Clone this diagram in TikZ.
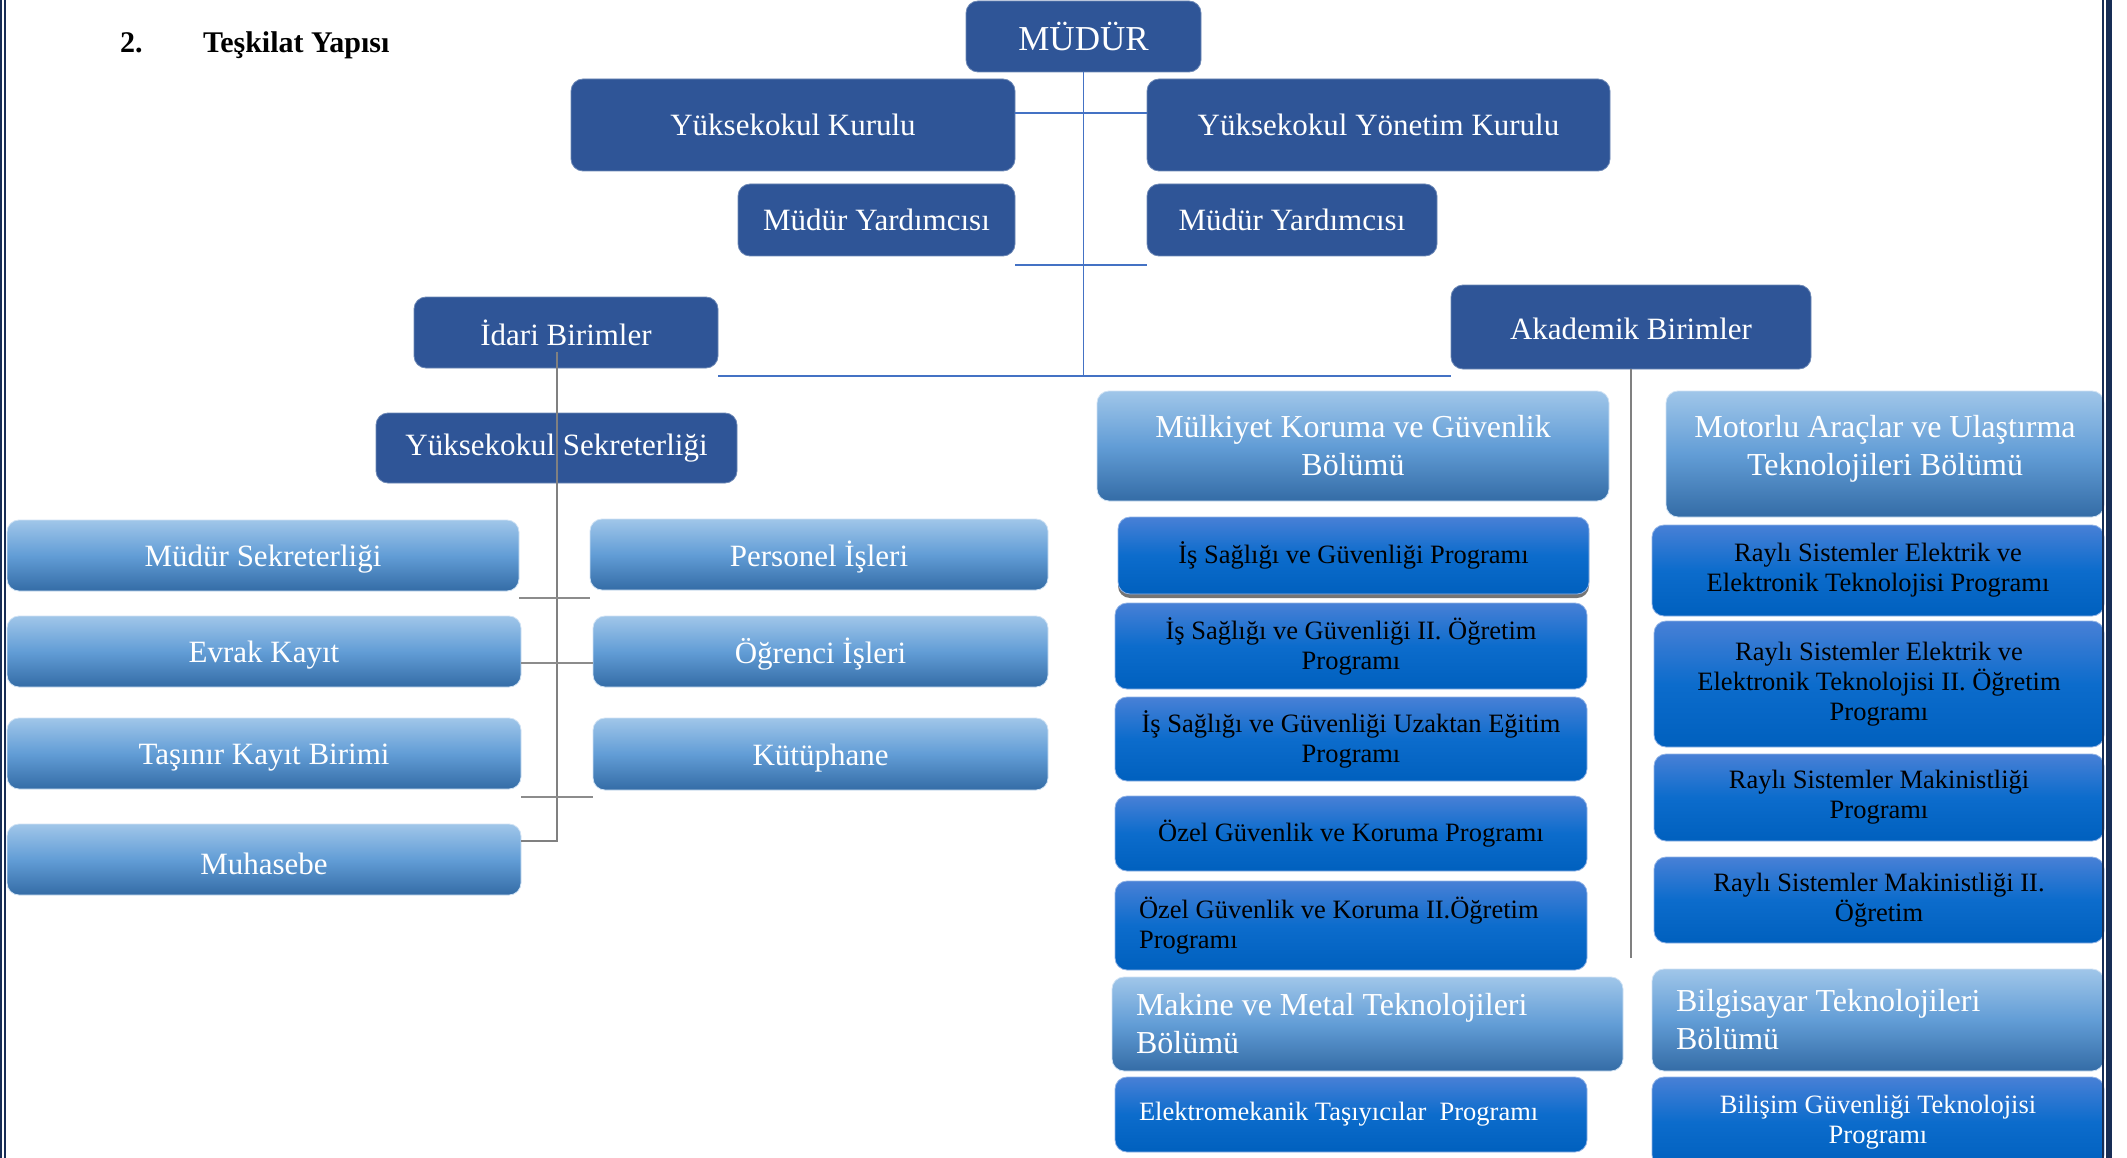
\documentclass[tikz,border=0pt]{standalone}
\usepackage{fontspec}
\setmainfont{Liberation Serif}
\usetikzlibrary{shadows}
\definecolor{navy}{RGB}{47,85,151}
\definecolor{ltop}{RGB}{160,198,233}
\definecolor{lmid}{RGB}{98,157,214}
\definecolor{lbot}{RGB}{52,108,166}
\definecolor{dtop}{RGB}{72,128,214}
\definecolor{dmid}{RGB}{12,108,204}
\definecolor{dbot}{RGB}{0,96,190}
\definecolor{lineblue}{RGB}{68,114,196}
\definecolor{linegray}{RGB}{128,128,128}
\definecolor{pageborder}{RGB}{23,45,85}
\newcommand\obox[7]{%
  \pgfmathsetmacro\bxw{#4-#2}\pgfmathsetmacro\bxh{#5-#3}%
  \pgfmathsetmacro\bxt{#4-#2-48}%
  \pgfmathsetmacro\bxcx{(#2+#4)/2}\pgfmathsetmacro\bxcy{(#3+#5)/2}%
  \node[#6, minimum width=\bxw pt, minimum height=\bxh pt] (#1) at (\bxcx,\bxcy) {#7};}
\newcommand\shiftv[2]{\raisebox{#1}[\height][\depth]{#2}}
\begin{document}
\begin{tikzpicture}[x=1pt,y=-1pt,
  every node/.style={inner sep=0pt, outer sep=0pt},
  basebox/.style={rounded corners=12pt, align=center},
  navybox/.style={basebox, fill=navy, draw=navy!70!white, line width=0.8pt, text=white,
    font=\fontsize{31}{37}\selectfont},
  lightbox/.style={basebox, top color=ltop, bottom color=lbot, middle color=lmid,
    draw=ltop!50!white, line width=0.8pt, text=white, font=\fontsize{31}{37}\selectfont},
  sectbox/.style={lightbox, font=\fontsize{32}{38}\selectfont},
  progbox/.style={basebox, top color=dtop, bottom color=dbot, middle color=dmid,
    draw=dtop!60!white, line width=0.8pt, text=black, font=\fontsize{26.5}{30}\selectfont},
  leftbox/.style={align=flush left, text width=\bxt pt},
  shadowed/.style={drop shadow={shadow xshift=0pt, shadow yshift=-4pt, fill=black!60, opacity=0.9}},
  blueline/.style={draw=lineblue, line width=1.8pt},
  grayv/.style={draw=linegray, line width=1.2pt},
  grayh/.style={draw=black!45, line width=2.4pt}]
\useasboundingbox (0,0) rectangle (2127,1158);
\fill[white] (0,0) rectangle (2127,1158);

% title
\node[anchor=base west, font=\bfseries\fontsize{30}{34}\selectfont] (num) at (120,53) {2.};
\node[anchor=base west, font=\bfseries\fontsize{30}{34}\selectfont] (ttl) at (203,53) {Teşkilat Yapısı};

% top level
\obox{mudur}{966}{1}{1201}{72}{navybox, font=\fontsize{35}{40}\selectfont}{MÜDÜR}
\obox{kurulu}{571}{79}{1015}{171}{navybox}{Yüksekokul Kurulu}
\obox{yonetim}{1147}{79}{1610}{171}{navybox}{Yüksekokul Yönetim Kurulu}
\obox{myl}{738}{184}{1015}{256}{navybox}{Müdür Yardımcısı}
\obox{myr}{1147}{184}{1437}{256}{navybox}{Müdür Yardımcısı}
\obox{idari}{414}{297}{718}{368}{navybox}{İdari Birimler}
\obox{akademik}{1451}{285}{1811}{369}{navybox}{\shiftv{-2pt}{Akademik Birimler}}
\obox{sekr}{376}{413}{737}{483}{navybox}{Yüksekokul Sekreterliği}

% idari units
\obox{msek}{7}{520}{519}{591}{lightbox}{\shiftv{-4pt}{Müdür Sekreterliği}}
\obox{evrak}{7}{616}{521}{687}{lightbox}{\shiftv{-4pt}{Evrak Kayıt}}
\obox{tasinir}{7}{718}{521}{789}{lightbox}{\shiftv{-4pt}{Taşınır Kayıt Birimi}}
\obox{muhasebe}{7}{824}{521}{895}{lightbox}{\shiftv{-4pt}{Muhasebe}}
\obox{personel}{590}{519}{1048}{590}{lightbox}{\shiftv{-3pt}{Personel İşleri}}
\obox{ogrenci}{593}{616}{1048}{687}{lightbox}{\shiftv{-3pt}{Öğrenci İşleri}}
\obox{kutup}{593}{718}{1048}{790}{lightbox}{\shiftv{-4pt}{Kütüphane}}

% academic departments
\obox{mulkiyet}{1097}{391}{1609}{501}{sectbox}{Mülkiyet Koruma ve Güvenlik\\Bölümü}
\obox{motorlu}{1666}{391}{2104}{517}{sectbox}{\shiftv{5pt}{\begin{tabular}{@{}c@{}}Motorlu Araçlar ve Ulaştırma\\Teknolojileri Bölümü\end{tabular}}}
\obox{makine}{1112}{977}{1623}{1071}{sectbox, leftbox}{Makine ve Metal Teknolojileri\\Bölümü}
\obox{bilgisayar}{1652}{969}{2104}{1071}{sectbox, leftbox}{Bilgisayar Teknolojileri\\Bölümü}

% programmes
\obox{is1}{1118}{517}{1589}{594}{progbox, shadowed}{İş Sağlığı ve Güvenliği Programı}
\obox{is2}{1115}{603}{1587}{689}{progbox}{İş Sağlığı ve Güvenliği II. Öğretim\\Programı}
\obox{is3}{1115}{697}{1587}{781}{progbox}{İş Sağlığı ve Güvenliği Uzaktan Eğitim\\Programı}
\obox{ozel1}{1115}{796}{1587}{871}{progbox}{Özel Güvenlik ve Koruma Programı}
\obox{ozel2}{1115}{881}{1587}{970}{progbox, leftbox}{Özel Güvenlik ve Koruma II.Öğretim\\Programı}
\obox{elektro}{1115}{1077}{1587}{1152}{progbox, leftbox, text=white}{Elektromekanik Taşıyıcılar\ \ Programı}
\obox{rayli1}{1652}{525}{2104}{616}{progbox}{Raylı Sistemler Elektrik ve\\Elektronik Teknolojisi Programı}
\obox{rayli2}{1654}{621}{2104}{747}{progbox}{Raylı Sistemler Elektrik ve\\Elektronik Teknolojisi II. Öğretim\\Programı}
\obox{rayli3}{1654}{754}{2104}{841}{progbox}{Raylı Sistemler Makinistliği\\Programı}
\obox{rayli4}{1654}{857}{2104}{943}{progbox}{Raylı Sistemler Makinistliği II.\\Öğretim}
\obox{bilisim}{1652}{1077}{2104}{1167}{progbox, text=white}{Bilişim Güvenliği Teknolojisi\\Programı}

% connector junctions
\coordinate (j1) at (1083.5,113);
\coordinate (j2) at (1083.5,265);
\coordinate (j3) at (1083.5,376);
\coordinate (it) at (557,352);
\coordinate (ib) at (557,841);
\coordinate (g1) at (557,598);
\coordinate (g2) at (557,663);
\coordinate (g3) at (557,797);
\coordinate (ae) at (1630,958);

% blue connectors
\draw[blueline] (mudur.south) -- (j3);
\draw[blueline] (kurulu.east |- j1) -- (yonetim.west |- j1);
\draw[blueline] (myl.east |- j2) -- (myr.west |- j2);
\draw[blueline] (idari.east |- j3) -- (akademik.west |- j3);

% gray connectors
\draw[grayv] (it) -- (ib) -- (muhasebe.east |- ib);
\draw[grayh] (msek.east |- g1) -- (personel.west |- g1);
\draw[grayh] (evrak.east |- g2) -- (ogrenci.west |- g2);
\draw[grayh] (tasinir.east |- g3) -- (kutup.west |- g3);
\draw[grayv] (akademik.south) -- (akademik.south |- ae);

% page border
\draw[pageborder, line width=2pt] (1,0) -- (1,1158);
\draw[pageborder, line width=2pt] (4.6,0) -- (4.6,1158);
\draw[pageborder, line width=2.7pt] (2103,0) -- (2103,1158);
\draw[pageborder, line width=6pt] (2109,0) -- (2109,1158);
\end{tikzpicture}
\end{document}
